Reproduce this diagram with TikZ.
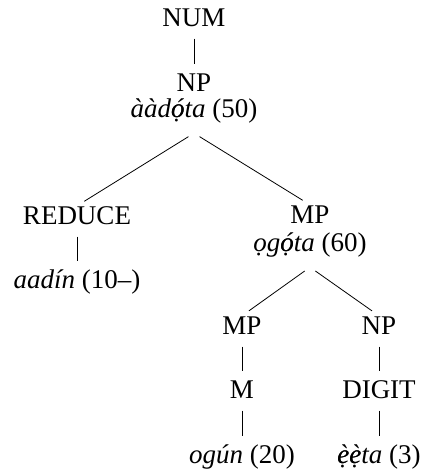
\documentclass[tikz,border=0pt]{standalone}
\usepackage{fontspec}
\setmainfont{Liberation Serif}
% tone mark over a dotted vowel: overlay the two precomposed letters
\newcommand\yoacc[2]{{\ooalign{#1\cr#2\cr}}}
\begin{document}
\begin{tikzpicture}[x=1pt, y=-1pt,
    every node/.style={font=\fontsize{27pt}{31pt}\selectfont},
    lbl/.style={anchor=base, inner sep=0pt, text height=18pt, text depth=6pt},
    gloss/.style={lbl, text depth=16pt},
    branch/.style={line width=0.8pt, shorten <=6.5pt, shorten >=8.5pt}]

  \useasboundingbox (0,0) rectangle (425,475);

  % top
  \node[lbl] (num) at (194,26) {NUM};
  \node[lbl] (np) at (194,91) {NP};
  \node[gloss] (fifty) at (194,117) {\textit{ààd\yoacc{ó}{ọ}ta} (50)};

  % left branch
  \node[lbl] (reduce) at (77,224) {REDUCE};
  \node[lbl] (ten) at (77,288) {\textit{aadín} (10–)};

  % right branch
  \node[lbl] (mp) at (310,223) {MP};
  \node[gloss] (sixty) at (310,251) {\textit{ọg\yoacc{ó}{ọ}ta} (60)};
  \node[lbl] (mpl) at (242,334) {MP};
  \node[lbl] (npr) at (379,334) {NP};
  \node[lbl] (m) at (242,398) {M};
  \node[lbl] (digit) at (379,398) {DIGIT};
  \node[lbl] (twenty) at (242,463) {\textit{ogún} (20)};
  \node[lbl] (three) at (379,463) {\textit{\yoacc{è}{ẹ}\yoacc{è}{ẹ}ta} (3)};

  \draw[branch] (num) -- (np);
  \draw[branch] (fifty.south) -- (reduce.north);
  \draw[branch] (fifty.south) -- (mp.north);
  \draw[branch] (reduce) -- (ten);
  \draw[branch] (sixty.south) -- (mpl.north);
  \draw[branch] (sixty.south) -- (npr.north);
  \draw[branch] (mpl) -- (m);
  \draw[branch] (m) -- (twenty);
  \draw[branch] (npr) -- (digit);
  \draw[branch] (digit) -- (three);

\end{tikzpicture}
\end{document}
